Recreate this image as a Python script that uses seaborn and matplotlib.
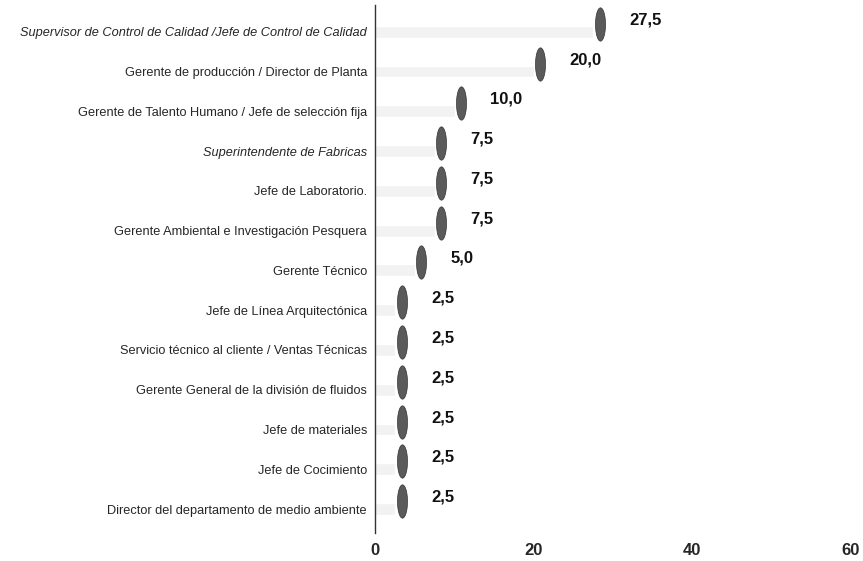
"""
Cargos de los encuestados - barras horizontales con tapa oscura.
"""
import matplotlib
matplotlib.use("Agg")
import matplotlib.pyplot as plt
import seaborn as sns
import pandas as pd
import numpy as np

cargos = [
    "Supervisor de Control de Calidad /Jefe de Control de Calidad",
    "Gerente de producción / Director de Planta",
    "Gerente de Talento Humano / Jefe de selección fija",
    "Superintendente de Fabricas",
    "Jefe de Laboratorio.",
    "Gerente Ambiental e Investigación Pesquera",
    "Gerente Técnico",
    "Jefe de Línea Arquitectónica",
    "Servicio técnico al cliente / Ventas Técnicas",
    "Gerente General de la división de fluidos",
    "Jefe de materiales",
    "Jefe de Cocimiento",
    "Director del departamento de medio ambiente",
]
porcentajes = [27.5, 20.0, 10.0, 7.5, 7.5, 7.5, 5.0, 2.5, 2.5, 2.5, 2.5, 2.5, 2.5]
cursiva = [0, 3]  # etiquetas en cursiva
xticks = [0, 20, 40, 60]

df = pd.DataFrame({"Cargo": cargos, "Porcentaje": porcentajes})

sns.set_style("white")
plt.rcParams["font.family"] = ["Liberation Sans", "DejaVu Sans"]

fig = plt.figure(figsize=(8.63, 5.61), dpi=100)
ax = fig.add_axes([0.435, 0.05, 0.551, 0.941])

# cuerpo del cilindro (muy tenue)
sns.barplot(data=df, y="Cargo", x="Porcentaje", orient="h", color="#f2f2f2",
            width=0.3, ax=ax)

# tapa oscura al final de cada barra
t = np.linspace(0, 2 * np.pi, 40)
elipse = np.column_stack([0.3 * np.cos(t), np.sin(t)])
pos = np.arange(len(cargos))
ax.plot(df["Porcentaje"] + 0.8, pos - 0.2, linestyle="none", marker=elipse,
        markersize=24, color="#5a5a5a", markeredgecolor="#333333",
        markeredgewidth=0.5)

for i, v in enumerate(porcentajes):
    ax.text(v + 4.5, i - 0.3, f"{v:.1f}".replace(".", ","), ha="left",
            va="center", fontsize=12, fontweight="bold", color="#111111")

ax.set_xlim(0, 60)
ax.set_ylim(len(cargos) - 0.4, -0.67)
ax.set_xticks(xticks)
ax.set_xticklabels([str(x) for x in xticks], fontsize=12, fontweight="bold")
ax.tick_params(axis="x", length=3, width=0.6, color="#aaaaaa", pad=4,
               direction="out")
ax.tick_params(axis="y", length=0, pad=6)
for i, lab in enumerate(ax.get_yticklabels()):
    lab.set_fontsize(9.2)
    if i in cursiva:
        lab.set_style("italic")
ax.set_xlabel("")
ax.set_ylabel("")
for s in ["top", "right", "bottom"]:
    ax.spines[s].set_visible(False)
ax.spines["left"].set_color("#333333")
ax.spines["left"].set_linewidth(1.0)

plt.savefig("out.png", dpi=100)
